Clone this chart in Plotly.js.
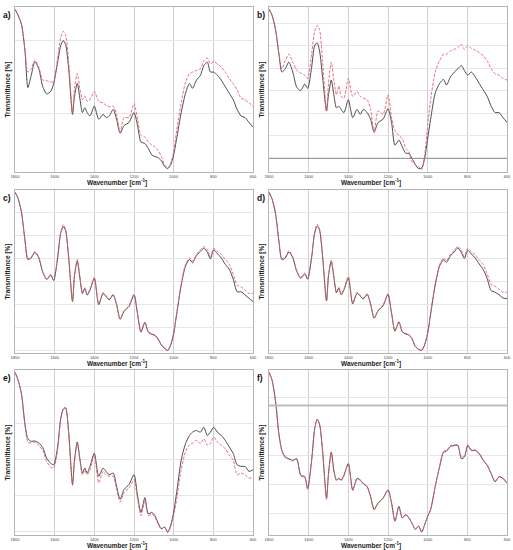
<!DOCTYPE html>
<html>
<head>
<meta charset="utf-8">
<script src="https://cdn.plot.ly/plotly-3.0.1.min.js"></script>
<style>
  body { margin: 0; background: #fff; }
  #finalPlot { width: 513px; height: 550px; }
</style>
</head>
<body>
<div id="finalPlot"></div>
<script>
// FTIR spectra, 6 panels, transmittance (0 = bottom, 100 = top of each panel)

var wavenumber = [1800, 1785, 1767, 1750, 1735, 1718, 1700, 1680, 1660, 1640, 1620, 1605, 1585, 1570, 1557, 1545, 1530, 1510, 1500, 1486,
    1472, 1460, 1448, 1436, 1422, 1400, 1378, 1356, 1340, 1325, 1305, 1288, 1270, 1250, 1225, 1200, 1182, 1165, 1145, 1128,
    1110, 1095, 1080, 1062, 1046, 1030, 1015, 1000, 985, 962, 940, 920, 905, 885, 865, 848, 830, 815, 798, 780,
    760, 740, 720, 700, 680, 660, 640, 620, 600];

var a_black = [99.6, 96, 90, 74, 51, 58.6, 67, 62.6, 51.5, 47, 48.5, 53.5, 66.7, 76.8, 80.2, 77.8, 63.6, 34.3, 45.5, 53.5,
    43.4, 35.4, 38.4, 35.4, 33.3, 39.4, 31.3, 34.3, 32.3, 33.3, 37.4, 31.3, 22.6, 27.3, 29.3, 35.4, 27.3, 17.2, 16.2, 13.1,
    9.1, 8.1, 7.5, 5.5, 2, 0.6, 3, 9.1, 19.2, 35.4, 47.5, 53.5, 50.5, 55.6, 58.6, 64.6, 66.7, 60.6, 60.6, 58.6,
    55.6, 51.5, 47.5, 43.4, 37.4, 33.3, 32.3, 29.3, 26.3];
var a_red = [99.6, 96, 90, 74.7, 60.6, 62.6, 68, 63.6, 55.6, 55.2, 54.5, 54.5, 69.7, 81.8, 85.9, 83.8, 67.7, 35.4, 50.5, 59.6,
    49.5, 43.4, 45.5, 42.4, 43.4, 48.5, 42.4, 41.4, 39.8, 39, 39.4, 34.3, 23.2, 32.3, 32.3, 41, 31.3, 21.2, 20.2, 17.2,
    15.2, 14.1, 12.1, 8.1, 3, 1, 4, 11.1, 24.2, 41.4, 54.5, 59.6, 60.6, 61.6, 62.6, 67.7, 69.3, 65.7, 67, 65.7,
    63.6, 60.6, 56.6, 53.5, 49.5, 44.4, 43.4, 41.4, 39.4];

var b_black = [99.6, 96, 86.9, 71.7, 60.6, 62.6, 66.7, 60.6, 51.1, 49.1, 53.1, 50.5, 63.6, 76.8, 78.8, 73.7, 57.6, 36.4, 46.5, 55.6,
    45.5, 38.4, 39.4, 37.4, 35.4, 43.4, 32.3, 37.4, 34.3, 37.4, 35.4, 31.3, 23.2, 29.3, 31.3, 37.8, 29.3, 15.2, 18.2, 14.1,
    10.1, 10.1, 7.1, 3, 0.6, 1, 7.1, 19.2, 31.3, 47.5, 53.5, 56, 52.5, 57.6, 60.6, 62.6, 64.6, 61.6, 58.6, 60.6,
    57.6, 53.5, 49.5, 45.5, 39.4, 35.4, 35.4, 32.3, 29.3];
var b_red = [99.6, 96, 87, 72, 62.6, 67.7, 71.7, 66.7, 61.6, 60, 58.6, 56.6, 71.7, 85.9, 89.5, 86.9, 67.7, 36.4, 53.5, 66.7,
    54.5, 46.5, 51.9, 45.5, 44.4, 56.6, 45.5, 48.5, 45.5, 44.4, 43.4, 37.4, 23.2, 36.4, 34.3, 46.5, 32.3, 24.2, 21.2, 19.2,
    13.1, 11.1, 5, 3, 2, 0, 9.1, 27.3, 43.4, 60.6, 67.7, 71.7, 71.7, 73.7, 74.7, 75.8, 77.8, 74.7, 76.8, 75.4,
    74.1, 72.7, 70.7, 67.7, 62.6, 59.6, 58.6, 56.6, 55.6];

var c_black = [99.6, 95.9, 86.8, 69.5, 57.3, 58.3, 61.8, 58.3, 49.2, 44.7, 47.6, 44.1, 58.3, 73.6, 78, 75.6, 59.3, 30.9, 47.2, 56.3,
    45.1, 35.9, 39, 34.9, 38, 45.5, 28.9, 35.9, 33.9, 31.9, 35, 28.9, 19.7, 24.8, 27.8, 35, 22.8, 11.6, 17.7, 11.6,
    10.2, 9.6, 7.5, 3.5, 1.4, 0, 3.5, 10.6, 22.8, 41.1, 53.3, 57.3, 55.3, 59.8, 62.4, 64.4, 61.8, 57.7, 63.4, 61,
    58.3, 54.3, 51.2, 45.1, 37, 37, 35, 32.9, 30.9];
var c_red = [99.6, 95.9, 86.8, 69.8, 57.8, 58.8, 62.4, 58.8, 49.6, 45.1, 48, 44.5, 58.8, 74.2, 79.3, 76.2, 59.8, 30.9, 47.6, 57.3,
    45.5, 36.5, 39.6, 35.5, 38.6, 46.1, 29.5, 36.5, 34.5, 32.5, 35.5, 29.3, 20.1, 25.2, 28.2, 35.5, 23.2, 12, 18.1, 12,
    10.6, 10, 7.9, 3.9, 1.8, 0.4, 3.9, 11, 23.4, 42, 54.3, 58.3, 56.3, 60.4, 63.4, 65.4, 63.4, 58.9, 64.4, 62.6,
    60.4, 57.3, 54.3, 48.2, 41.1, 40, 38, 36, 36];

var d_black = [99.6, 95.5, 86, 68.8, 57.2, 58.2, 62, 58.4, 49.8, 45.5, 48.2, 44.9, 58.6, 73.8, 78.4, 75.8, 59.4, 31.2, 47, 56,
    45.3, 36.3, 39.2, 35.1, 38.2, 45.7, 29.4, 36.1, 34.3, 32.4, 35.3, 29.2, 20.4, 25, 28.2, 35.3, 23.4, 12.2, 18, 11.8,
    10.4, 9.8, 7.6, 2.5, 0.8, 0.2, 3.7, 10.8, 23, 41.2, 53.1, 57.1, 55.5, 59.6, 62.2, 64.5, 61.6, 58, 63.1, 60.8,
    58.2, 54.5, 51, 45.3, 37.8, 36.7, 35.1, 33.1, 32.7];
var d_red = [99.6, 95.5, 86, 69, 57.8, 58.8, 62.8, 59, 50.2, 46, 48.8, 45.5, 59.2, 74.5, 79.5, 76.5, 60, 31.2, 47.6, 57,
    45.9, 36.9, 40, 35.7, 38.8, 46.5, 30, 36.7, 34.9, 33, 35.9, 29.8, 20.8, 25.4, 28.6, 35.7, 23.8, 12.6, 18.4, 12.2,
    10.8, 10.2, 8, 2.9, 1, 0.4, 4.1, 11.2, 23.6, 42, 54, 58.2, 56.5, 60.6, 63.2, 65.5, 63.2, 59.2, 64.3, 62.4,
    60.2, 57.1, 54.1, 48.2, 41.6, 40.4, 38.6, 36.7, 36.7];

var e_black = [99.6, 94.9, 85.8, 67.5, 58.3, 56.7, 56.9, 55.7, 52.8, 46.1, 43.1, 42.1, 53.3, 70.5, 76.6, 77.6, 63.4, 29.9, 45.1, 56.3,
    45.1, 37, 40, 37, 41.1, 49.2, 35, 40, 38, 35.9, 37, 28.9, 20.7, 26.8, 29.9, 36, 22.8, 12.6, 21.7, 11.6,
    12.6, 10.6, 6.5, 2.4, 3.5, 0.4, 4.5, 12.6, 24.8, 45.1, 55.3, 60.4, 62.4, 63.4, 62.4, 65.4, 60.4, 62.4, 65.4, 62.4,
    60.4, 57.3, 53.3, 49.2, 42.1, 41.1, 41.1, 38, 39];
var e_red = [99.6, 94.9, 85.8, 67, 56.3, 55.7, 56.3, 54.1, 51.2, 44.1, 40.7, 40, 51.2, 69.9, 76.6, 77.6, 62.4, 29.3, 44.1, 55.3,
    44.1, 35.9, 38.6, 35.9, 39, 48.2, 30.9, 38, 35.9, 35, 35, 26.8, 19.1, 24.8, 27.8, 32.9, 20.7, 10.6, 19.7, 10.6,
    11.6, 9.6, 5.5, 2, 3.5, 0, 3.5, 10.6, 20.7, 39, 50.4, 54.5, 55.5, 57.3, 55.3, 58.3, 54.3, 55.3, 59.3, 56.3,
    54.3, 52.2, 48.2, 45.1, 36, 37, 36, 33.9, 33.9];

var f_black = [99.6, 94.9, 81.6, 61.2, 51, 46.9, 45.9, 44.9, 45.9, 35.7, 34.7, 27.6, 44.9, 64.3, 70.4, 67.3, 51, 21.4, 36.7, 50,
    37.8, 32.7, 33.7, 32.7, 35.7, 42.9, 26.5, 33.7, 32.7, 30.6, 28.6, 22.4, 14.3, 18.4, 21.4, 26.5, 18.4, 7.1, 16.3, 9.2,
    11.2, 9.2, 6.1, 2, 4.1, 0.4, 5.1, 10.2, 14.3, 28.6, 40.8, 50, 50.6, 53.5, 54.1, 54.1, 45.9, 46.9, 54.1, 51,
    51, 49, 44.9, 41.8, 36.7, 31.6, 34.7, 33.7, 30.6];
var f_red = [99.6, 94.9, 81.4, 61, 50.6, 46.5, 45.5, 44.5, 45.3, 35.1, 34.3, 26.5, 44.5, 64.1, 70.2, 67.1, 50.6, 20.4, 36.3, 49.8,
    37.4, 32.2, 33.3, 32.2, 35.3, 42.7, 26.1, 33.3, 32.4, 30.2, 28.4, 22.2, 14.1, 18.2, 21.2, 26.3, 18.2, 6.9, 16.1, 9,
    11, 9, 5.9, 1.8, 3.9, 0.2, 4.9, 10, 14.3, 28.8, 41, 50.4, 51, 54.1, 54.5, 54.7, 46.9, 47.6, 54.7, 51.6,
    51.4, 49.4, 45.3, 42, 36.9, 31.8, 34.9, 33.9, 30.6];

var panel_labels = ['a)', 'b)', 'c)', 'd)', 'e)', 'f)'];
var x_ticks = [1800, 1600, 1400, 1200, 1000, 800, 600];

var panels = [
    [a_black, a_red], [b_black, b_red], [c_black, c_red],
    [d_black, d_red], [e_black, e_red], [f_black, f_red]
];

// pixel boxes of each plot area: [left, right, top, bottom]
var W = 513, H = 550;
var boxes = [
    [15, 253, 7, 172], [269, 507, 7, 172],
    [15, 253, 190, 353], [269, 507, 190, 353],
    [15, 253, 370, 535], [269, 507, 370, 535]
];
var gridsteps = [[-10, 45], [7, 14], [0, 14.5], [0, 14.5], [-22, 22.5], [-6, 18]];

var data = [];
var layout = {
    width: W,
    height: H,
    margin: { l: 0, r: 0, t: 0, b: 0 },
    paper_bgcolor: '#fff',
    plot_bgcolor: '#fff',
    showlegend: false,
    font: { family: 'Liberation Sans, Arial, sans-serif', color: '#222' },
    annotations: [],
    shapes: []
};

panels.forEach(function(p, i) {
    var n = i == 0 ? '' : String(i + 1);
    var box = boxes[i];
    data.push({
        x: wavenumber, y: p[0], xaxis: 'x' + n, yaxis: 'y' + n,
        type: 'scatter', mode: 'lines',
        line: { color: '#3a3a3a', width: 0.9, shape: 'spline', smoothing: 0.7 }
    });
    data.push({
        x: wavenumber, y: p[1], xaxis: 'x' + n, yaxis: 'y' + n,
        type: 'scatter', mode: 'lines',
        line: { color: '#e4606e', width: 0.9, dash: '3px,1.5px', shape: 'spline', smoothing: 0.7 }
    });
    layout['xaxis' + n] = {
        domain: [box[0] / W, box[1] / W],
        anchor: 'y' + n,
        range: [1800, 600],
        tickvals: x_ticks,
        ticktext: x_ticks.map(String),
        ticks: '',
        ticklen: 0,
        ticklabelstandoff: 0,
        tickfont: { size: 4, color: '#444' },
        showgrid: true,
        gridcolor: '#cfcfcf',
        gridwidth: 1,
        zeroline: false,
        showline: true,
        linecolor: '#b5b5b5',
        mirror: true
    };
    layout['yaxis' + n] = {
        domain: [1 - box[3] / H, 1 - box[2] / H],
        anchor: 'x' + n,
        range: [-1.5, 101],
        showticklabels: false,
        ticks: '',
        tick0: gridsteps[i][0],
        dtick: gridsteps[i][1],
        showgrid: true,
        gridcolor: '#e6e6e6',
        gridwidth: 1,
        zeroline: false,
        showline: true,
        linecolor: '#b5b5b5',
        mirror: true,
        title: { text: '<b>Transmittance [%]</b>', font: { size: 6.5, color: '#222' }, standoff: 2 }
    };
    // x title sits left of centre in the original figure
    layout.annotations.push({
        text: '<b>Wavenumber [cm<sup>-1</sup>]</b>',
        xref: 'paper', yref: 'paper',
        x: (box[0] + 102) / W, y: 1 - (box[3] + 10) / H,
        xanchor: 'center', yanchor: 'middle',
        showarrow: false,
        font: { size: 6.5, color: '#222' }
    });
    layout.annotations.push({
        text: '<b>' + panel_labels[i] + '</b>',
        xref: 'paper', yref: 'paper',
        x: (box[0] - 14) / W, y: 1 - (box[2] + 1) / H,
        xanchor: 'left', yanchor: 'top',
        showarrow: false,
        font: { size: 8.5, color: '#111' }
    });
});

// darker baseline lines seen in panels b and f
layout.shapes.push({ type: 'line', xref: 'x2 domain', yref: 'y2', x0: 0, x1: 1, y0: 7, y1: 7, line: { color: '#8a8a8a', width: 1 } });
layout.shapes.push({ type: 'line', xref: 'x6 domain', yref: 'y6', x0: 0, x1: 1, y0: 79, y1: 79, line: { color: '#bdbdbd', width: 2 } });

Plotly.newPlot('finalPlot', data, layout, { displayModeBar: false, staticPlot: true });
</script>
</body>
</html>
